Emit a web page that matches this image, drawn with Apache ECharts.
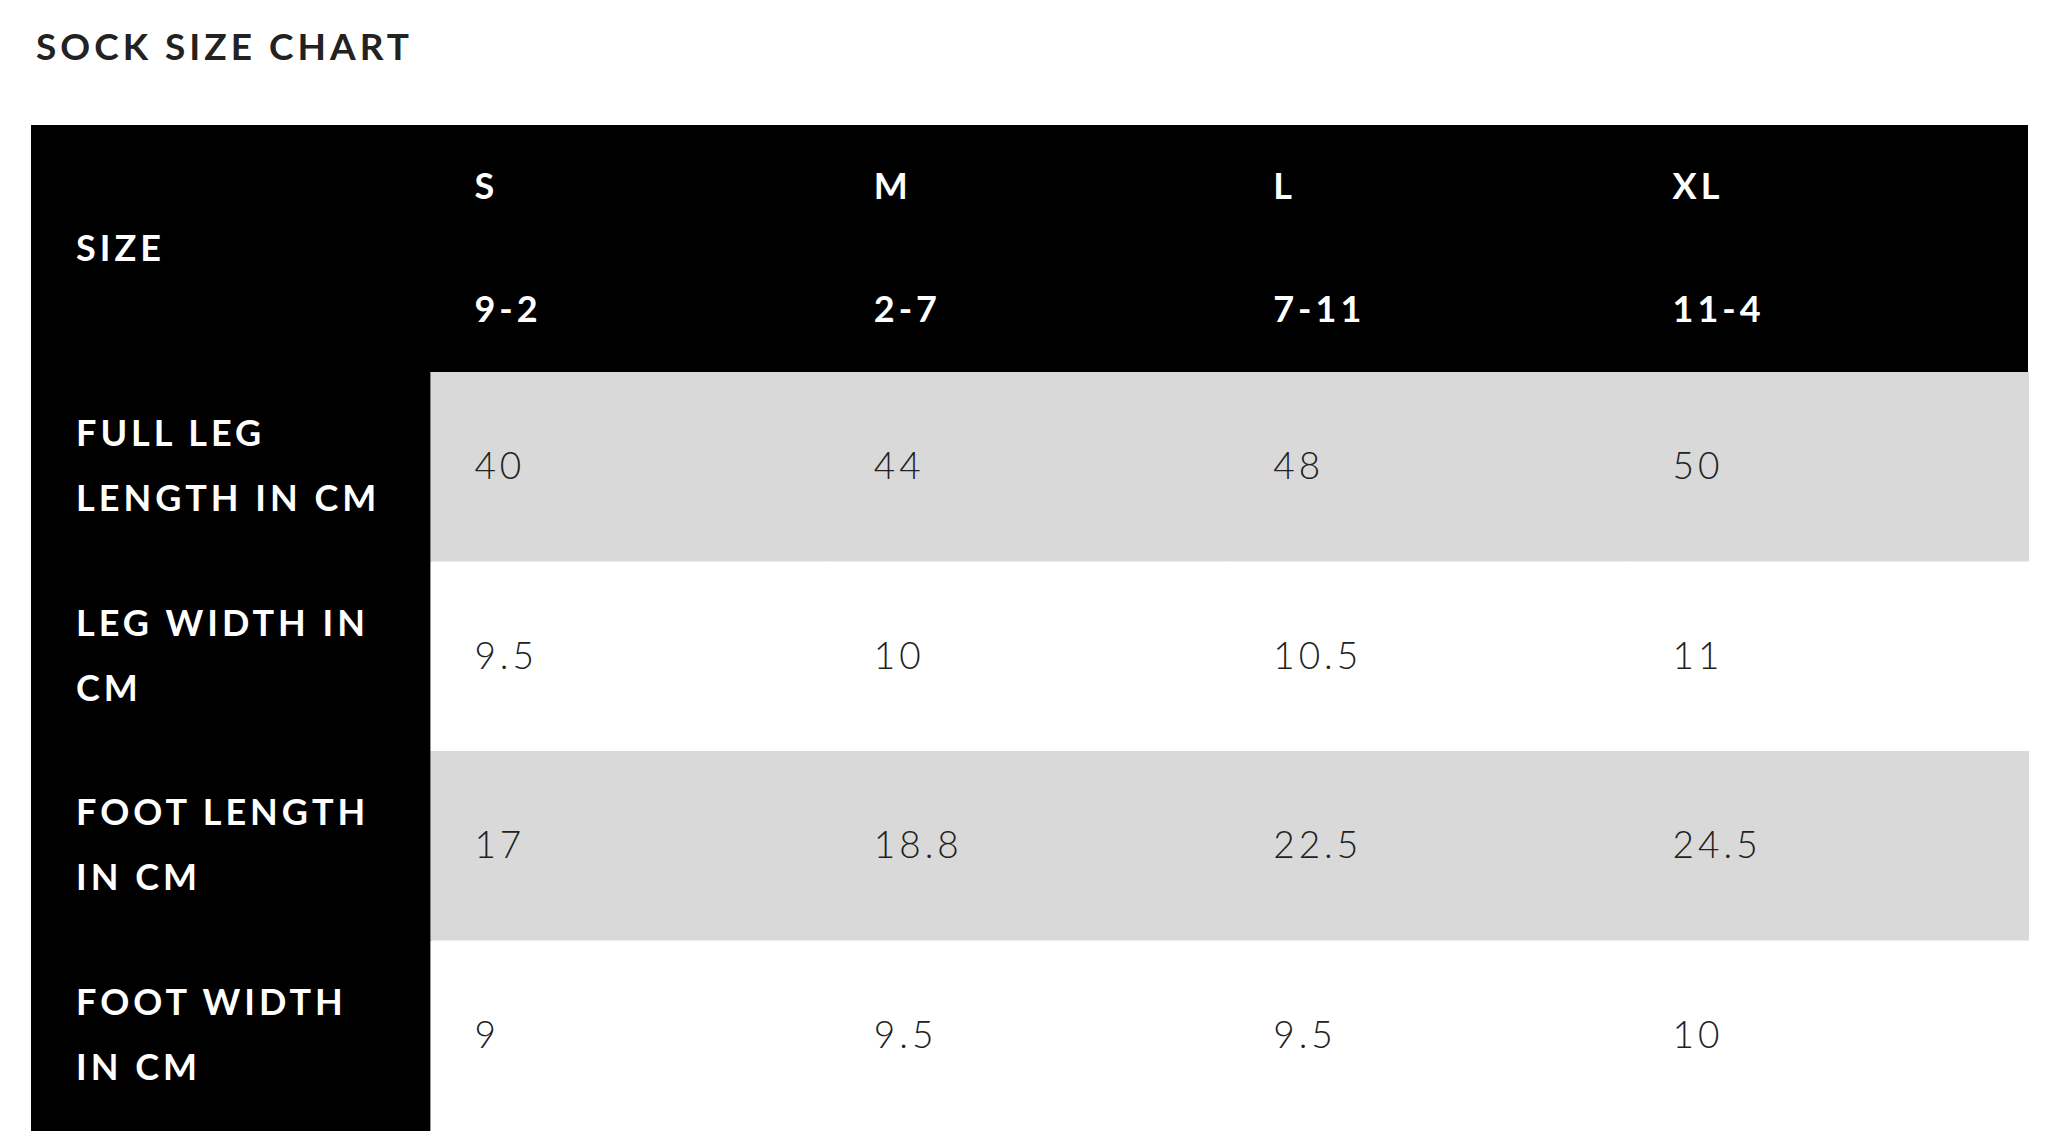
<!DOCTYPE html>
<html>
<head>
<meta charset="utf-8">
<script src="https://cdn.jsdelivr.net/npm/echarts@6/dist/echarts.min.js"></script>
<style>
html,body{margin:0;padding:0;background:#fff;}
#chart{width:2048px;height:1136px;}
#chart text{letter-spacing:4px;}
</style>
</head>
<body>
<div id="chart"></div>
<script>
const chartTitle = 'SOCK SIZE CHART';
const headerLabel = 'SIZE';
const sizes = ['S', 'M', 'L', 'XL'];
const sizeRanges = ['9-2', '2-7', '7-11', '11-4'];
const measures = ['FULL LEG\nLENGTH IN CM', 'LEG WIDTH IN\nCM', 'FOOT LENGTH\nIN CM', 'FOOT WIDTH\nIN CM'];
const fullLegLength = [40, 44, 48, 50];
const legWidth = [9.5, 10, 10.5, 11];
const footLength = [17, 18.8, 22.5, 24.5];
const footWidth = [9, 9.5, 9.5, 10];
const measureValues = [fullLegLength, legWidth, footLength, footWidth];

const columns = ['label'].concat(sizes);
const headerRows = ['size', 'range'];

// header cells: [col, row]
const headerCells = [];
const headerTexts = [];
sizes.forEach((s, i) => { headerCells.push([i + 1, 0]); headerTexts.push(s); });
sizeRanges.forEach((r, i) => { headerCells.push([i + 1, 1]); headerTexts.push(r); });

// body cells: [col, row]
const bodyCells = [];
const bodyTexts = [];
measures.forEach((m, r) => {
  bodyCells.push([0, r]); bodyTexts.push(m);
  measureValues[r].forEach((v, c) => { bodyCells.push([c + 1, r]); bodyTexts.push(String(v)); });
});

const PAD = 44;
const DY = -2;
const headFont = 'bold 36px Lato';
const valFont = '300 37px Lato';

const chart = echarts.init(document.getElementById('chart'), null, { renderer: 'svg' });
chart.setOption({
  backgroundColor: '#fff',
  animation: false,
  title: {
    text: chartTitle,
    left: 31,
    top: 22,
    textStyle: { fontFamily: 'Lato', fontSize: 37, fontWeight: 'bold', color: '#222' }
  },
  grid: [
    { left: 31, right: 20, top: 125, height: 247, show: true, backgroundColor: '#000', borderWidth: 0 },
    { left: 31, right: 20, top: 372, height: 758, show: false }
  ],
  xAxis: [
    { gridIndex: 0, type: 'category', data: columns, show: false },
    { gridIndex: 1, type: 'category', data: columns, show: false }
  ],
  yAxis: [
    { gridIndex: 0, type: 'category', data: headerRows, inverse: true, show: false },
    { gridIndex: 1, type: 'category', data: measures, inverse: true, show: false }
  ],
  series: [
    {
      type: 'custom',
      xAxisIndex: 0, yAxisIndex: 0,
      data: headerCells,
      renderItem: function (params, api) {
        const c = api.coord([api.value(0), api.value(1)]);
        const s = api.size([1, 1]);
        const cs = params.coordSys;
        const children = [{
          type: 'text',
          style: { x: c[0] - s[0] / 2 + PAD, y: c[1] + DY, text: headerTexts[params.dataIndex], fill: '#fff', font: headFont, align: 'left', verticalAlign: 'middle' }
        }];
        if (params.dataIndex === 0) {
          children.push({
            type: 'text',
            style: { x: cs.x + PAD + 1, y: cs.y + cs.height / 2 + DY, text: headerLabel, fill: '#fff', font: headFont, align: 'left', verticalAlign: 'middle' }
          });
        }
        return { type: 'group', children: children };
      }
    },
    {
      type: 'custom',
      xAxisIndex: 1, yAxisIndex: 1,
      data: bodyCells,
      renderItem: function (params, api) {
        const col = api.value(0), row = api.value(1);
        const c = api.coord([col, row]);
        const s = api.size([1, 1]);
        const x0 = c[0] - s[0] / 2, y0 = c[1] - s[1] / 2;
        let bg = row % 2 === 0 ? '#d9d9d9' : '#ffffff';
        if (col === 0) bg = '#000000';
        return {
          type: 'group',
          children: [
            { type: 'rect', shape: { x: x0, y: y0, width: s[0] + 1, height: s[1] + 1 }, style: { fill: bg } },
            {
              type: 'text',
              style: col === 0
                ? { x: x0 + PAD + 1, y: c[1] + DY, text: bodyTexts[params.dataIndex], fill: '#fff', font: headFont, lineHeight: 65, align: 'left', verticalAlign: 'middle' }
                : { x: x0 + PAD, y: c[1] + DY, text: bodyTexts[params.dataIndex], fill: '#222', font: valFont, align: 'left', verticalAlign: 'middle' }
            }
          ]
        };
      }
    }
  ]
});
</script>
</body>
</html>
